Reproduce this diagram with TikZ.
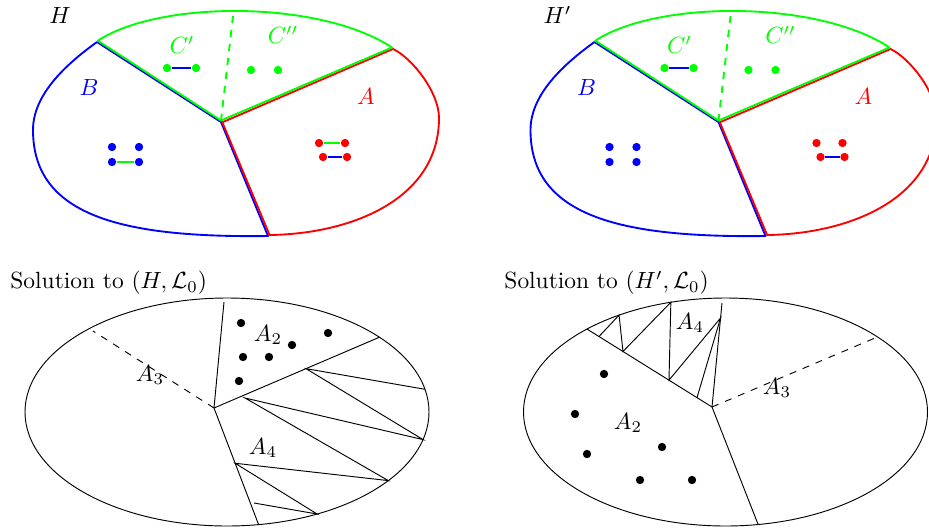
\documentclass[tikz,border=0pt]{standalone}
\usepackage{tikz}
\usetikzlibrary{positioning,calc}

\begin{document}
\begin{tikzpicture}[x=0.015cm,y=-0.015cm]
\tikzstyle{dot}=[circle,fill,inner sep=0pt,minimum size=0.125cm]
\tikzstyle{part}=[thick,line join=round]
\tikzstyle{pair}=[semithick]
\tikzstyle{lbl}=[inner sep=0pt]
\useasboundingbox (0,0) rectangle (929,529);
\foreach \sx/\nm/\ttl in {0/l/H,497.5/r/H'}{
\begin{scope}[shift={(\sx,0)}]
\coordinate (vb\nm) at (221,122);
\coordinate (vg\nm) at (221,120.5);
\coordinate (vr\nm) at (222.3,122.3);
\coordinate (jb\nm) at (97,42);
\coordinate (jg\nm) at (97.8,40.7);
\coordinate (kg\nm) at (392,47.5);
\coordinate (kr\nm) at (393,49);
\coordinate (bb\nm) at (268,236);
\coordinate (br\nm) at (269.6,235);
\coordinate (gt\nm) at (233,16);
\draw[part,blue] (jb\nm) -- (vb\nm) -- (bb\nm) .. controls (120,238) and (33,215) .. (33,130) .. controls (33,95) and (65,65) .. (jb\nm);
\draw[part,red] (vr\nm) -- (kr\nm) .. controls (412,58) and (439,92) .. (439,118) .. controls (439,200) and (350,234) .. (br\nm) -- cycle;
\draw[part,green] (vg\nm) -- (jg\nm) .. controls (160,0) and (320,0) .. (kg\nm) -- cycle;
\draw[part,green,dashed] (gt\nm) -- (vg\nm);
\node[lbl] (h\nm) at (60,15) {$\ttl$};
\node[lbl,green] (cp\nm) at (182,45) {$C'$};
\node[lbl,green] (cq\nm) at (283,35) {$C''$};
\node[lbl,blue] (lb\nm) at (89,87) {$B$};
\node[lbl,red] (la\nm) at (366,96) {$A$};
\node[dot,green] (c1\nm) at (167,68) {};
\node[dot,green] (c2\nm) at (196,68) {};
\node[dot,green] (c3\nm) at (251,70) {};
\node[dot,green] (c4\nm) at (278,70) {};
\node[dot,blue] (b1\nm) at (112,147) {};
\node[dot,blue] (b2\nm) at (139,147) {};
\node[dot,blue] (b3\nm) at (112,162) {};
\node[dot,blue] (b4\nm) at (139,162) {};
\node[dot,red] (r1\nm) at (319,143) {};
\node[dot,red] (r2\nm) at (345,143) {};
\node[dot,red] (r3\nm) at (323,157) {};
\node[dot,red] (r4\nm) at (347,157) {};
\draw[pair,blue] (c1\nm) -- (c2\nm);
\draw[pair,blue] (r3\nm) -- (r4\nm);
\end{scope}}
\draw[pair,green] (b3l) -- (b4l);
\draw[pair,green] (r1l) -- (r2l);

\coordinate (cl) at (227,412);
\draw (cl) ellipse [x radius=202, y radius=114];
\node[lbl,anchor=west] (sl) at (10,283) {Solution to $(H,\mathcal{L}_0)$};
\coordinate (pl) at (214,408);
\coordinate (tl) at (224,302);
\coordinate (ul) at ($(cl)+(319:202 and 114)$);
\coordinate (dl) at ($(cl)+(81:202 and 114)$);
\coordinate (al) at (93,331);
\draw (tl) -- (pl) -- (dl);
\draw (pl) -- (ul);
\draw[dashed] (pl) -- (al);
\coordinate (z1) at ($(cl)+(348.5:202 and 114)$);
\coordinate (m1) at ($(pl)!0.556!(ul)$);
\coordinate (z2) at ($(cl)+(14:202 and 114)$);
\coordinate (f1) at (245,398);
\coordinate (z3) at ($(cl)+(37:202 and 114)$);
\coordinate (m2) at ($(pl)!0.474!(dl)$);
\coordinate (z4) at ($(cl)+(63.5:202 and 114)$);
\coordinate (f2) at (254,503);
\draw (z1) -- (m1) -- (z2) -- (f1) -- (z3) -- (m2) -- (z4) -- (f2);
\node[lbl] (a2l) at (268,335) {$A_2$};
\node[lbl] (a3l) at (150,375) {$A_3$};
\node[lbl] (a4l) at (263,448) {$A_4$};
\foreach \x/\y [count=\i] in {241/323,328/333,292/345,243/357,269/357,239/381}
  \node[dot] (kl\i) at (\x,\y) {};

\coordinate (cr) at (725.5,412);
\draw (cr) ellipse [x radius=202, y radius=114];
\node[lbl,anchor=west] (sr) at (504,283) {Solution to $(H',\mathcal{L}_0)$};
\coordinate (pr) at (712,407);
\coordinate (tr) at (722,303);
\coordinate (dr) at ($(cr)+(80.7:202 and 114)$);
\coordinate (wr) at ($(cr)+(226.7:202 and 114)$);
\coordinate (ar) at (875,338);
\draw (tr) -- (pr) -- (dr);
\draw (pr) -- (wr);
\draw[dashed] (pr) -- (ar);
\coordinate (y1) at ($(pr)!0.904!(wr)$);
\coordinate (y2) at ($(cr)+(238.2:202 and 114)$);
\coordinate (n1) at ($(pr)!0.712!(wr)$);
\coordinate (y3) at ($(cr)+(254.3:202 and 114)$);
\coordinate (n2) at ($(pr)!0.344!(wr)$);
\coordinate (n3) at ($(pr)!0.856!(tr)$);
\coordinate (n4) at ($(pr)!0.12!(wr)$);
\draw (y1) -- (y2) -- (n1) -- (y3) -- (n2) -- (n3) -- (n4);
\node[lbl] (a4r) at (690,323) {$A_4$};
\node[lbl] (a2r) at (628,423) {$A_2$};
\node[lbl] (a3r) at (777,388) {$A_3$};
\foreach \x/\y [count=\i] in {604/374,575/414,662/447,587/454,640/480,692/480}
  \node[dot] (kr\i) at (\x,\y) {};
\end{tikzpicture}
\end{document}
